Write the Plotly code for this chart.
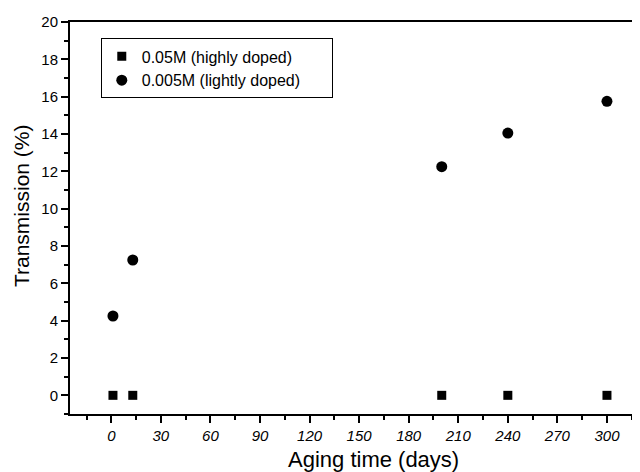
import plotly.graph_objects as go

days_high = [1, 13, 200, 240, 300]
trans_high = [0, 0, 0, 0, 0]
days_light = [1, 13, 200, 240, 300]
trans_light = [4.25, 7.25, 12.25, 14.05, 15.75]
x_ticks = [0, 30, 60, 90, 120, 150, 180, 210, 240, 270, 300]
y_ticks = [0, 2, 4, 6, 8, 10, 12, 14, 16, 18, 20]
pad = "&nbsp;" * 6

fig = go.Figure()
fig.add_trace(go.Scatter(x=days_high, y=trans_high, mode="markers",
                         name="0.05M (highly doped)",
                         marker=dict(symbol="square", size=9, color="black")))
fig.add_trace(go.Scatter(x=days_light, y=trans_light, mode="markers",
                         name="0.005M (lightly doped)" + pad,
                         marker=dict(symbol="circle", size=11, color="black")))

fig.update_layout(
    width=632, height=464,
    margin=dict(l=62, r=0, t=14, b=58),
    plot_bgcolor="white", paper_bgcolor="white",
    font=dict(family="Arial, Liberation Sans", color="black"),
    showlegend=True,
    legend=dict(x=0.054, y=0.958, xanchor="left", yanchor="top",
                bordercolor="black", borderwidth=1, bgcolor="white",
                font=dict(size=16), tracegroupgap=0, itemsizing="trace"),
    xaxis=dict(range=[-25, 320], tickvals=x_ticks,
               ticktext=[f"<i>{v}</i>" for v in x_ticks],
               showgrid=False, zeroline=False, showline=True, linecolor="black",
               linewidth=2, mirror=True, ticks="outside", ticklen=7, tickwidth=1.5,
               tickcolor="black", tickfont=dict(size=15),
               minor=dict(dtick=15, tick0=0, ticks="outside", ticklen=4, tickcolor="black")),
    yaxis=dict(range=[-1, 20], tickvals=y_ticks,
               showgrid=False, zeroline=False, showline=True, linecolor="black",
               linewidth=2, mirror=False, ticks="outside", ticklen=7, tickwidth=1.5,
               tickcolor="black", tickfont=dict(size=15),
               minor=dict(dtick=1, tick0=0, ticks="outside", ticklen=4, tickcolor="black")),
    annotations=[
        dict(text="Aging time (days)", xref="paper", yref="paper", x=0.533, y=-0.117,
             xanchor="center", yanchor="middle", showarrow=False, font=dict(size=22)),
        dict(text="Transmission (%)", xref="paper", yref="paper", x=-0.086, y=0.533,
             xanchor="center", yanchor="middle", textangle=-90, showarrow=False,
             font=dict(size=21)),
    ],
)

fig.write_html("out.html")
